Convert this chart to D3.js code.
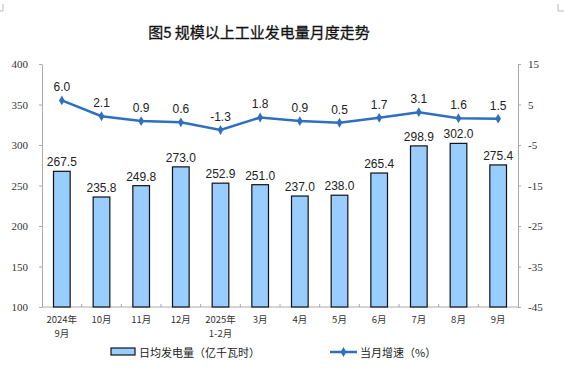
<!DOCTYPE html>
<html>
<head>
<meta charset="utf-8">
<style>
  body { margin: 0; background: #fff; }
  svg { display: block; }
</style>
</head>
<body>
<svg width="564" height="374"></svg>
<script src="https://d3js.org/d3.v7.min.js"></script>
<script>
var categories = ["2024年\n9月", "10月", "11月", "12月", "2025年\n1-2月", "3月", "4月", "5月", "6月", "7月", "8月", "9月"];
var output = [267.5, 235.8, 249.8, 273.0, 252.9, 251.0, 237.0, 238.0, 265.4, 298.9, 302.0, 275.4];
var growth = [6.0, 2.1, 0.9, 0.6, -1.3, 1.8, 0.9, 0.5, 1.7, 3.1, 1.6, 1.5];
var leftTicks = [100, 150, 200, 250, 300, 350, 400];
var rightTicks = [-45, -35, -25, -15, -5, 5, 15];

var svg = d3.select("svg");
var margin = {top: 64, left: 42, right: 46, bottom: 67},
    width = 564 - margin.left - margin.right,
    height = 374 - margin.top - margin.bottom;

var serif = "'Liberation Serif', 'Times New Roman', serif";
var sans = "'Liberation Sans', Arial, sans-serif";
var cjk = "'Noto Sans CJK SC', sans-serif";

// frame corners
svg.append("path").attr("d", "M3,4V11H0M558,4V11H564").attr("fill", "none").attr("stroke", "#bbb");

svg.append("text")
    .attr("x", 259).attr("y", 38)
    .attr("text-anchor", "middle")
    .attr("font-family", cjk)
    .attr("font-size", 15)
    .attr("fill", "#111")
    .attr("stroke", "#111").attr("stroke-width", 0.3)
    .text("图5  规模以上工业发电量月度走势");

var g = svg.append("g").attr("transform", "translate(" + margin.left + "," + margin.top + ")");

var x = d3.scaleBand().domain(categories).range([0, width]).paddingInner(0.58).paddingOuter(0.29);
var xOuter = d3.scaleBand().domain(categories).range([0, width]);
var y = d3.scaleLinear().domain([100, 400]).range([height, 0]);
var y2 = d3.scaleLinear().domain([-45, 15]).range([height, 0]);

// left axis
var la = g.append("g").call(d3.axisLeft(y).tickValues(leftTicks).tickSize(3).tickSizeOuter(0));
la.select(".domain").attr("stroke", "#aaa");
la.selectAll(".tick line").attr("stroke", "#aaa");
la.selectAll("text").attr("font-family", serif).attr("font-size", 11).attr("fill", "#333").attr("x", -14);

// right axis
var ra = g.append("g").attr("transform", "translate(" + width + ",0)")
    .call(d3.axisRight(y2).tickValues(rightTicks).tickFormat(function (d) { return String(d); })
        .tickSize(3).tickSizeOuter(0));
ra.select(".domain").attr("stroke", "#aaa");
ra.selectAll(".tick line").attr("stroke", "#aaa");
ra.selectAll("text").attr("font-family", serif).attr("font-size", 11).attr("fill", "#333").attr("x", 10);

// bottom axis line and ticks between categories
g.append("line").attr("x1", 0).attr("x2", width).attr("y1", height).attr("y2", height).attr("stroke", "#aaa");
g.selectAll(".sep").data(categories.slice(1)).enter().append("line")
    .attr("x1", function (d) { return xOuter(d); })
    .attr("x2", function (d) { return xOuter(d); })
    .attr("y1", height).attr("y2", height - 3)
    .attr("stroke", "#aaa");

// bars
g.selectAll(".bar").data(output).enter().append("rect")
    .attr("x", function (d, i) { return x(categories[i]); })
    .attr("y", function (d) { return y(d); })
    .attr("width", x.bandwidth())
    .attr("height", function (d) { return height - y(d); })
    .attr("fill", "#99ccff")
    .attr("stroke", "#111")
    .attr("stroke-width", 1.2);

g.selectAll(".blabel").data(output).enter().append("text")
    .attr("x", function (d, i) { return x(categories[i]) + x.bandwidth() / 2; })
    .attr("y", function (d) { return y(d) - 5; })
    .attr("text-anchor", "middle")
    .attr("font-family", sans).attr("font-size", 12).attr("fill", "#222")
    .text(function (d) { return d.toFixed(1); });

// line
var cx = function (d, i) { return xOuter(categories[i]) + xOuter.bandwidth() / 2; };
var line = d3.line().x(cx).y(function (d) { return y2(d); });
g.append("path").datum(growth).attr("d", line)
    .attr("fill", "none").attr("stroke", "#2e6fbf").attr("stroke-width", 2.5);
g.selectAll(".pt").data(growth).enter().append("path")
    .attr("d", d3.symbol().type(d3.symbolDiamond).size(28))
    .attr("transform", function (d, i) { return "translate(" + cx(d, i) + "," + y2(d) + ")"; })
    .attr("fill", "#2e6fbf");
g.selectAll(".llabel").data(growth).enter().append("text")
    .attr("x", cx)
    .attr("y", function (d) { return y2(d) - 9; })
    .attr("text-anchor", "middle")
    .attr("font-family", sans).attr("font-size", 12).attr("fill", "#222")
    .text(function (d) { return d.toFixed(1); });

// category labels, one text per line
categories.forEach(function (c, i) {
    c.split("\n").forEach(function (part, j) {
        g.append("text")
            .attr("x", cx(c, i))
            .attr("y", height + 16 + j * 14)
            .attr("text-anchor", "middle")
            .attr("font-family", cjk).attr("font-size", 9.5).attr("fill", "#333")
            .text(part);
    });
});

// legend
var lg = svg.append("g").attr("transform", "translate(0,352)");
lg.append("rect").attr("x", 111).attr("y", -4).attr("width", 24).attr("height", 7)
    .attr("fill", "#99ccff").attr("stroke", "#111").attr("stroke-width", 1.2);
lg.append("text").attr("x", 139).attr("y", 4.5)
    .attr("font-family", cjk).attr("font-size", 11).attr("fill", "#222")
    .text("日均发电量（亿千瓦时）");
lg.append("line").attr("x1", 330).attr("x2", 357).attr("y1", 0).attr("y2", 0)
    .attr("stroke", "#2e6fbf").attr("stroke-width", 2.5);
lg.append("path").attr("d", d3.symbol().type(d3.symbolDiamond).size(28))
    .attr("transform", "translate(343.5,0)").attr("fill", "#2e6fbf");
lg.append("text").attr("x", 360).attr("y", 4.5)
    .attr("font-family", cjk).attr("font-size", 11).attr("fill", "#222")
    .text("当月增速（%）");
</script>
</body>
</html>
